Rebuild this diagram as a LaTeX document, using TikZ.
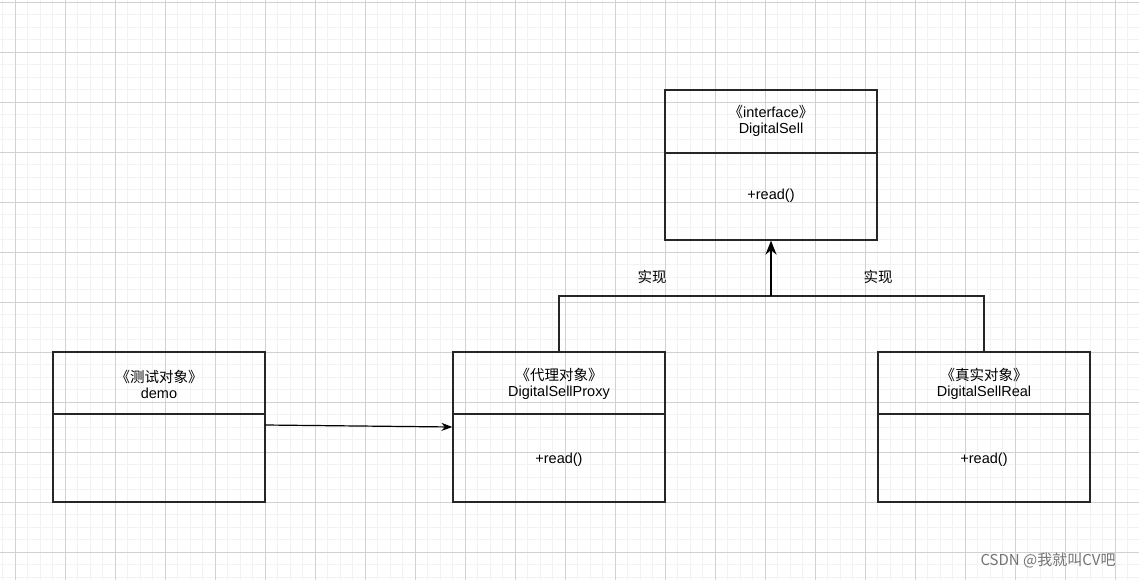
\documentclass[tikz,border=0pt]{standalone}
\usepackage{fontspec}
\setmainfont{Liberation Sans}
\newfontfamily\cjk{Noto Sans CJK SC}
\usetikzlibrary{arrows.meta}
\tikzstyle{classbox} = [rectangle, draw=black!85, line width=1.2pt, minimum width=212pt, minimum height=150pt, inner sep=0pt]
\tikzstyle{title} = [align=center, font=\fontsize{14.5}{16}\selectfont]
\tikzstyle{label} = [font=\cjk\fontsize{14.5}{16}\selectfont]
\tikzstyle{arrow} = [line width=1.8pt, -{Stealth[length=14pt,width=11pt]}]
\tikzstyle{link} = [line width=1.2pt, black!85]

\begin{document}
\begin{tikzpicture}[x=1pt, y=-1pt]
	\useasboundingbox (0,0) rectangle (1139,580);
	\begin{scope}
	\clip (0,0) rectangle (1139,580);
	\fill[white] (0,0) rectangle (1139,580);
	\draw[black!5, line width=0.6pt, step=12.5pt, shift={(2.5,2)}] (-10,-10) grid (1150,590);
	\draw[black!18, line width=0.8pt, step=50pt, shift={(15,2)}] (-50,-10) grid (1150,590);
	\end{scope}

	\node (iface) [classbox] at (771,165) {};
	\node (demo) [classbox] at (159,427) {};
	\node (proxy) [classbox] at (559,427) {};
	\node (real) [classbox] at (984,427) {};

	% header separators
	\draw[link] (665,153) -- (877,153);
	\draw[link] (53,414) -- (265,414);
	\draw[link] (453,414) -- (665,414);
	\draw[link] (878,414) -- (1090,414);

	\node (ifacetitle) [title] at (771,121) {{\cjk《}interface{\cjk》}\\DigitalSell};
	\node (ifaceop) [title] at (771,196) {+read()};
	\node (demotitle) [title] at (159,384) {{\cjk《测试对象》}\\demo};
	\node (proxytitle) [title] at (559,384) {{\cjk《代理对象》}\\DigitalSellProxy};
	\node (proxyop) [title] at (559,460) {+read()};
	\node (realtitle) [title] at (984,384) {{\cjk《真实对象》}\\DigitalSellReal};
	\node (realop) [title] at (984,460) {+read()};

	\coordinate (join) at (771,296);
	\draw[link] (proxy.north) |- (join) -| (real.north);
	\draw[arrow] (join) -- (iface.south);
	\node (implleft) [label] at (652,277) {实现};
	\node (implright) [label] at (878,277) {实现};

	\coordinate (demoout) at (265,425);
	\draw[arrow, line width=1.2pt, -{Stealth[length=11pt,width=8pt]}] (demoout) -- (proxy.west);

	\node (mark) [font=\cjk\fontsize{15}{17}\selectfont, text=black!55] at (1048,560) {CSDN @我就叫CV吧};
\end{tikzpicture}
\end{document}
